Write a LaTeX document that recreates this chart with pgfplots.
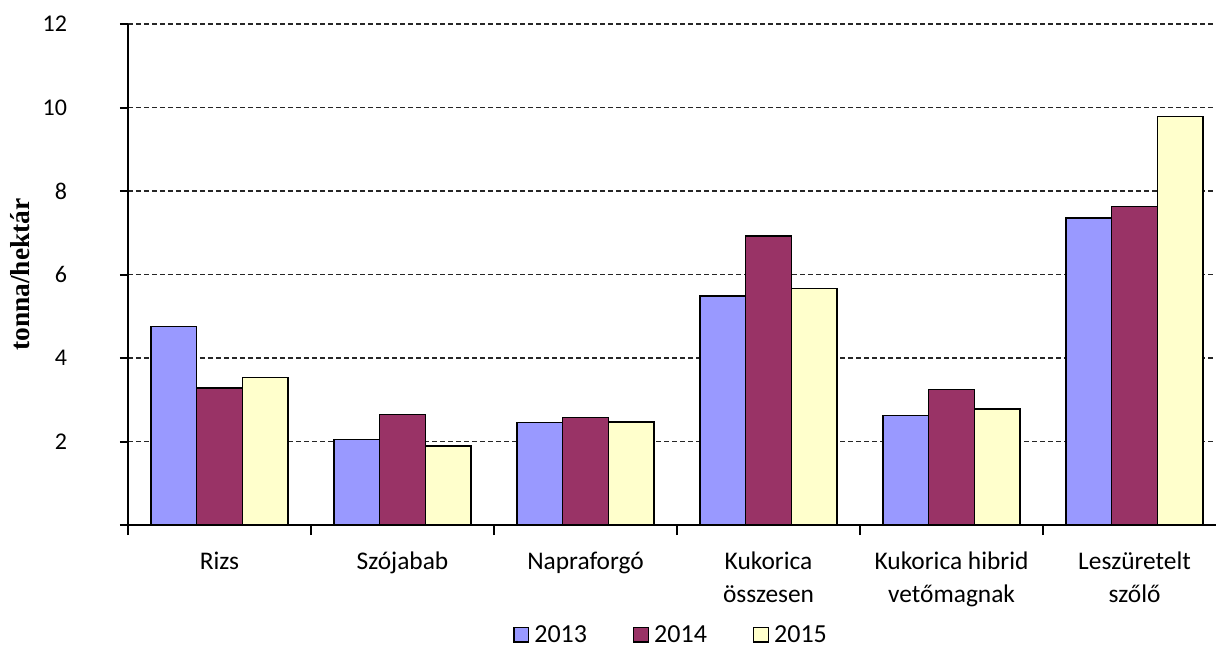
\documentclass[border=0pt]{standalone}
\usepackage{pgfplots}
\pgfplotsset{compat=1.18}
\usepackage{fontspec}
\setmainfont{Carlito}
\newfontfamily\tnr{Liberation Serif}
\definecolor{c13}{HTML}{9999FF}
\definecolor{c14}{HTML}{993366}
\definecolor{c15}{HTML}{FFFFCC}
\begin{document}
\begin{tikzpicture}
\begin{axis}[
  at={(0,0)}, anchor=south west,
  scale only axis, width=544pt, height=250.5pt,
  xmin=-0.5, xmax=5.445, ymin=0, ymax=12,
  axis lines*=left, axis line style={-, line width=1pt},
  ybar, bar width=0.25,
  legend image code/.code={\draw[#1, line width=0.7pt] (0pt,-3pt) rectangle (7.4pt,4.4pt);},
  tick align=outside,
  ytick={0,2,4,6,8,10,12},
  yticklabels={,2,4,6,8,10,12},
  major tick length=4pt,
  xtick={0,1,2,3,4,5},
  xticklabels={Rizs, Szójabab, Napraforgó, {Kukorica\\összesen}, {Kukorica hibrid\\vetőmagnak}, {Leszüretelt\\szőlő}},
  major x tick style={draw=none},
  minor xtick={-0.5,0.5,1.5,2.5,3.5,4.5},
  minor tick length=5pt,
  minor x tick style={line width=1pt, black},
  ytick style={line width=1pt, black},
  ymajorgrids,
  grid style={black!85, dash pattern=on 2.5pt off 1.5pt, line width=0.6pt},
  yticklabel style={font=\fontsize{12}{14}\selectfont, xshift=-23pt},
  xticklabel style={font=\fontsize{12.7}{16.5}\selectfont, align=center, yshift=-6pt},
  ylabel={\tnr\bfseries tonna/hektár},
  ylabel style={at={(axis description cs:-0.0993,0.5)}, anchor=center, font=\fontsize{13.7}{15}\selectfont},
  legend style={at={(0.5,0)}, anchor=center, yshift=-55.5pt, draw=none, fill=none,
    font=\fontsize{13}{15}\selectfont, legend columns=3,
    /tikz/every even column/.append style={column sep=21pt},
    /tikz/every odd column/.append style={column sep=0.5pt}},
]
\addplot[fill=c13, draw=black, line width=0.75pt, bar shift=-0.25] coordinates {(0,4.76) (1,2.05) (2,2.45) (3,5.49) (4,2.62) (5,7.35)};
\addplot[fill=c14, draw=black, line width=0.75pt, bar shift=0] coordinates {(0,3.28) (1,2.65) (2,2.57) (3,6.92) (4,3.25) (5,7.63)};
\addplot[fill=c15, draw=black, line width=0.75pt, bar shift=0.25] coordinates {(0,3.53) (1,1.89) (2,2.47) (3,5.67) (4,2.78) (5,9.78)};
\legend{2013,2014,2015}
\end{axis}
\pgfresetboundingbox
\path[use as bounding box] (-64pt,-62pt) rectangle (544pt,262.5pt);
\end{tikzpicture}
\end{document}
